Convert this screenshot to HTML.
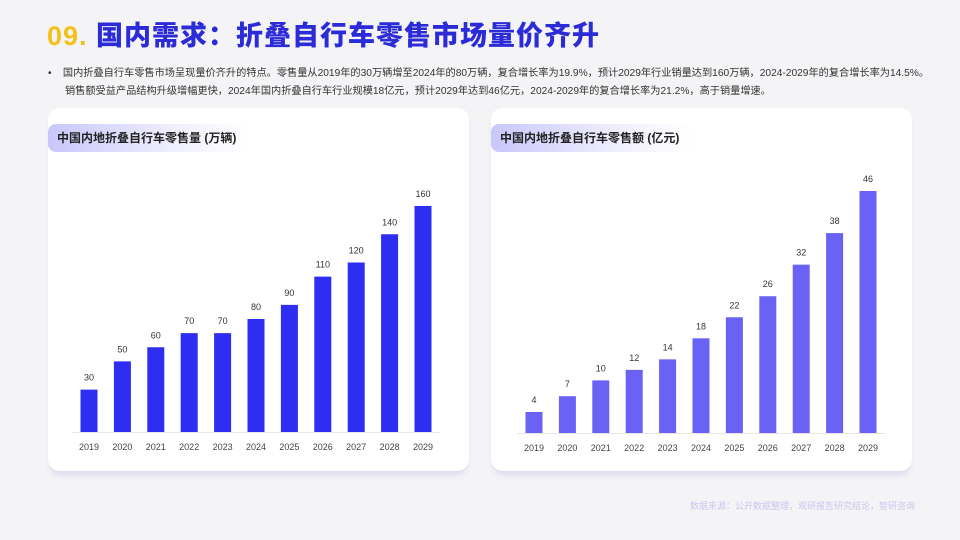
<!DOCTYPE html>
<html><head><meta charset="utf-8">
<style>
body{margin:0;width:960px;height:540px;background:#f4f4f6;font-family:"Liberation Sans","Noto Sans CJK SC",sans-serif;position:relative;overflow:hidden}
.title{position:absolute;left:47px;top:14px;font-size:27px;font-weight:900;color:#2b2bd8;letter-spacing:1px;white-space:nowrap}
.title .num{color:#f5c01a}
.bullet{position:absolute;left:48px;top:65px;font-size:10.2px;color:#333;line-height:18px;white-space:nowrap}
.card{position:absolute;top:108px;width:421px;height:363px;background:#fff;border-radius:12px;box-shadow:0 6px 6px -2px #dcdaf0}
.pill{position:absolute;left:0;top:16px;width:200px;height:28px;border-radius:8px 0 0 8px;background:linear-gradient(90deg,#c9c6fb,#eeedfd 60%,#fff);font-size:12px;font-weight:bold;color:#222;line-height:28px;padding-left:9px;box-sizing:border-box;white-space:nowrap}
.src{position:absolute;left:690px;top:499px;font-size:9px;color:#c9c6ee;white-space:nowrap}
svg{position:absolute;left:0;top:0}
</style></head><body>
<div class="title"><span class="num">09.</span> 国内需求：折叠自行车零售市场量价齐升</div>
<div class="bullet">•&nbsp;&nbsp;&nbsp;&nbsp;国内折叠自行车零售市场呈现量价齐升的特点。零售量从2019年的30万辆增至2024年的80万辆，复合增长率为19.9%，预计2029年行业销量达到160万辆，2024-2029年的复合增长率为14.5%。<br>&nbsp;&nbsp;&nbsp;&nbsp;&nbsp;&nbsp;销售额受益产品结构升级增幅更快，2024年国内折叠自行车行业规模18亿元，预计2029年达到46亿元，2024-2029年的复合增长率为21.2%，高于销量增速。</div>
<div class="card" style="left:48px"><div class="pill">中国内地折叠自行车零售量 (万辆)</div></div>
<div class="card" style="left:491px"><div class="pill">中国内地折叠自行车零售额 (亿元)</div></div>
<div class="src">数据来源：公开数据整理，观研报告研究结论，智研咨询</div>
<svg id="chart" width="960" height="540"></svg>
<script>
const years=["2019","2020","2021","2022","2023","2024","2025","2026","2027","2028","2029"];
const volume=[30,50,60,70,70,80,90,110,120,140,160];
const sales=[4,7,10,12,14,18,22,26,32,38,46];
const svg=document.getElementById('chart');
const NS='http://www.w3.org/2000/svg';
function draw(vals,x0,base,maxH,color,name){
  const max=Math.max(...vals);
  const y=v=>base-v/max*maxH;
  const x=i=>x0+i*33.4;
  const ax=document.createElementNS(NS,'line');
  ax.setAttribute('x1',x0-17);ax.setAttribute('x2',x(10)+17);ax.setAttribute('y1',base+0.5);ax.setAttribute('y2',base+0.5);
  ax.setAttribute('stroke','#e6e6e6');
  
  
  svg.appendChild(ax);
  vals.forEach((v,i)=>{
    const r=document.createElementNS(NS,'rect');
    r.setAttribute('x',x(i)-8.5);r.setAttribute('width',17);r.setAttribute('y',y(v));r.setAttribute('height',base-y(v));r.setAttribute('fill',color);
    
    
    svg.appendChild(r);
    const t=document.createElementNS(NS,'text');
    t.setAttribute('x',x(i));t.setAttribute('y',y(v)-9);t.setAttribute('text-anchor','middle');t.setAttribute('font-size','9');t.setAttribute('fill','#333');
    t.textContent=v;
    
    
    svg.appendChild(t);
    const l=document.createElementNS(NS,'text');
    l.setAttribute('x',x(i));l.setAttribute('y',base+18);l.setAttribute('text-anchor','middle');l.setAttribute('font-size','9');l.setAttribute('fill','#444');
    l.textContent=years[i];
    
    
    svg.appendChild(l);
  });
}
draw(volume,89,432,226,'#2e2ef2','volume');
draw(sales,534,433,242,'#6a62f5','sales');
</script>
</body></html>
